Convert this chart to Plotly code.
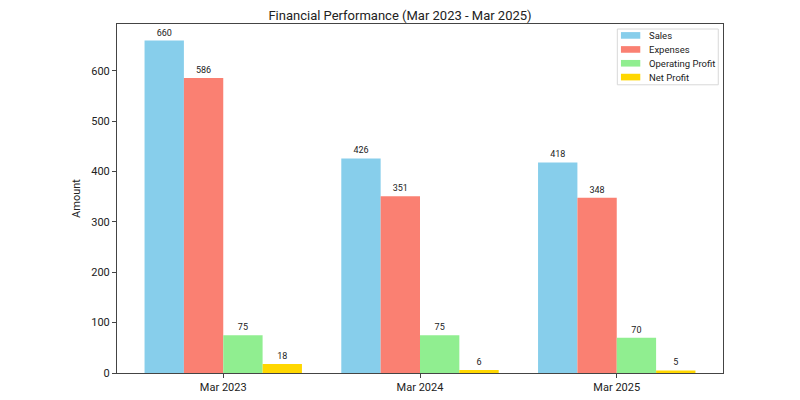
import plotly.graph_objects as go

categories = ["Mar 2023", "Mar 2024", "Mar 2025"]
sales = [660, 426, 418]
expenses = [586, 351, 348]
operating_profit = [75, 75, 70]
net_profit = [18, 6, 5]

series_names = ["Sales", "Expenses", "Operating Profit", "Net Profit"]
series_values = [sales, expenses, operating_profit, net_profit]
series_colors = ["#87CEEB", "#FA8072", "#90EE90", "#FFD700"]

font_family = "Roboto, Open Sans, sans-serif"

fig = go.Figure()
for name, vals, color in zip(series_names, series_values, series_colors):
    fig.add_trace(go.Bar(
        x=categories, y=vals, name=name,
        marker=dict(color=color, line=dict(width=0)),
        text=[str(v) for v in vals], textposition="outside",
        textfont=dict(size=9, color="#222222", family=font_family),
        cliponaxis=False, showlegend=False,
    ))

# Compact legend (matplotlib-like) drawn in paper coordinates
shapes = [dict(type="rect", xref="paper", yref="paper",
               x0=0.8256, x1=0.9922, y0=0.8258, y1=0.9856,
               line=dict(color="#d8d8d8", width=1), fillcolor="white", layer="above")]
annotations = []
ys = [0.9673, 0.9271, 0.8875, 0.8479]
for name, color, yc in zip(series_names, series_colors, ys):
    shapes.append(dict(type="rect", xref="paper", yref="paper",
                       x0=0.8316, x1=0.8635, y0=yc - 0.0095, y1=yc + 0.0095,
                       line=dict(width=0), fillcolor=color, layer="above"))
    annotations.append(dict(xref="paper", yref="paper", x=0.8738, y=yc,
                            xanchor="left", yanchor="middle", showarrow=False,
                            text=name, font=dict(size=9.5, color="#222222")))

fig.update_layout(
    width=800, height=400,
    margin=dict(l=117, r=77, t=24, b=27, autoexpand=False),
    paper_bgcolor="white", plot_bgcolor="white",
    barmode="group", bargap=0.2, bargroupgap=0,
    font=dict(family=font_family, size=11, color="#222222"),
    title=dict(text="Financial Performance (Mar 2023 - Mar 2025)",
               x=0.5, xanchor="center", y=0.962, yanchor="middle",
               font=dict(size=13, color="#222222")),
    showlegend=False,
    shapes=shapes, annotations=annotations,
)
fig.update_xaxes(
    type="category", range=[-0.54, 2.54], automargin=False,
    showline=True, linecolor="#444444", linewidth=1, mirror=True,
    ticks="outside", ticklen=4, tickcolor="#444444",
    showgrid=False, tickfont=dict(size=11),
)
fig.update_yaxes(
    range=[0, 693], tickvals=[0, 100, 200, 300, 400, 500, 600], automargin=False,
    showline=True, linecolor="#444444", linewidth=1, mirror=True,
    ticks="outside", ticklen=4, tickcolor="#444444",
    showgrid=False, zeroline=False, tickfont=dict(size=11),
    title=dict(text="Amount", font=dict(size=11), standoff=8),
)

fig.write_html("out.html")
